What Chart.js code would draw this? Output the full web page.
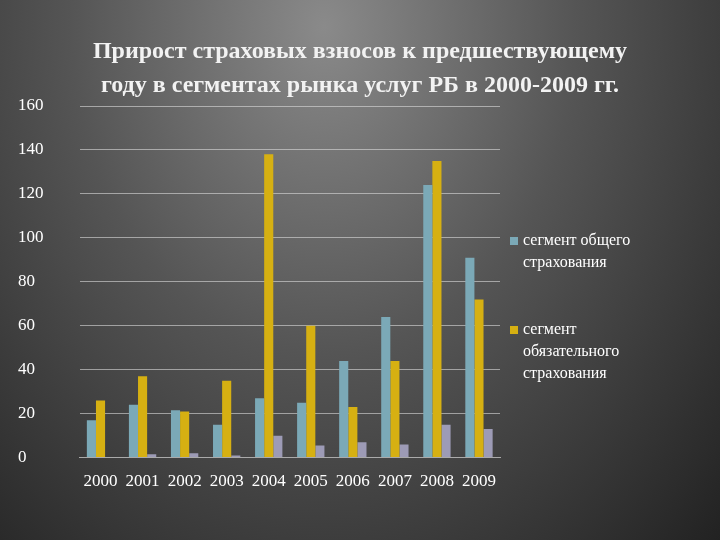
<!DOCTYPE html>
<html><head><meta charset="utf-8">
<script src="https://cdn.jsdelivr.net/npm/chart.js@4"></script>
<style>
html,body{margin:0;padding:0;width:720px;height:540px;overflow:hidden;}
body{background:radial-gradient(ellipse at 45% 5%, #8a8a8a 0%, #555 45%, #222 100%);}
#w{position:absolute;left:0;top:0;width:720px;height:540px;}
</style></head><body>
<div id="w"><canvas id="c" width="720" height="540"></canvas></div>
<script>
const years=['2000','2001','2002','2003','2004','2005','2006','2007','2008','2009'];
const generalSeg=[17,24,21.5,15,27,25,44,64,124,91];
const mandatorySeg=[26,37,21,35,138,60,23,44,135,72];
const thirdSeg=[0,1.5,2,1,10,5.5,7,6,15,13];
const titleLines=['Прирост страховых взносов к предшествующему','году в сегментах рынка услуг РБ в 2000-2009 гг.'];
const legendLabels=['сегмент общего|страхования','сегмент|обязательного|страхования'];
const serif='"Liberation Serif","DejaVu Serif",serif';
const legendPlugin={id:'lg',afterDraw(ch){const c=ch.ctx;c.save();c.font='16px '+serif;c.textBaseline='middle';
 c.fillStyle='#f2f2f2';c.textAlign='center';c.font='bold 24px '+serif;
 c.fillText(titleLines[0],360,52);c.fillText(titleLines[1],360,86);
 c.textAlign='left';c.font='16px '+serif;
 const ys=[241,330];const cols=[ch.data.datasets[0].backgroundColor,ch.data.datasets[1].backgroundColor];
 legendLabels.forEach((l,i)=>{c.fillStyle=cols[i];c.fillRect(510,ys[i]-4,8,8);c.fillStyle='#fff';
 l.split('|').forEach((s,j)=>c.fillText(s,523,ys[i]+j*22));});c.restore();}};
new Chart(document.getElementById('c'),{type:'bar',
data:{labels:years,datasets:[
{label:'сегмент общего страхования',data:generalSeg,backgroundColor:'#7ba9b7'},
{label:'сегмент обязательного страхования',data:mandatorySeg,backgroundColor:'#d6b012'},
{label:'',data:thirdSeg,backgroundColor:'#9d9bb6'}]},
options:{responsive:false,animation:false,
layout:{padding:{left:18,right:220,top:106,bottom:42}},
datasets:{bar:{categoryPercentage:0.65,barPercentage:1}},
plugins:{legend:{display:false},tooltip:{enabled:false},title:{display:false}},
scales:{x:{grid:{display:false,drawOnChartArea:false},border:{color:'#aaa'},ticks:{color:'#fff',font:{family:serif,size:17},maxRotation:0,autoSkip:false,padding:6}},
y:{min:0,max:160,ticks:{stepSize:20,color:'#fff',font:{family:serif,size:17},padding:18,crossAlign:'far'},grid:{color:'rgba(220,220,220,0.6)',drawTicks:false},border:{display:false}}}},
plugins:[legendPlugin]});
</script></body></html>
